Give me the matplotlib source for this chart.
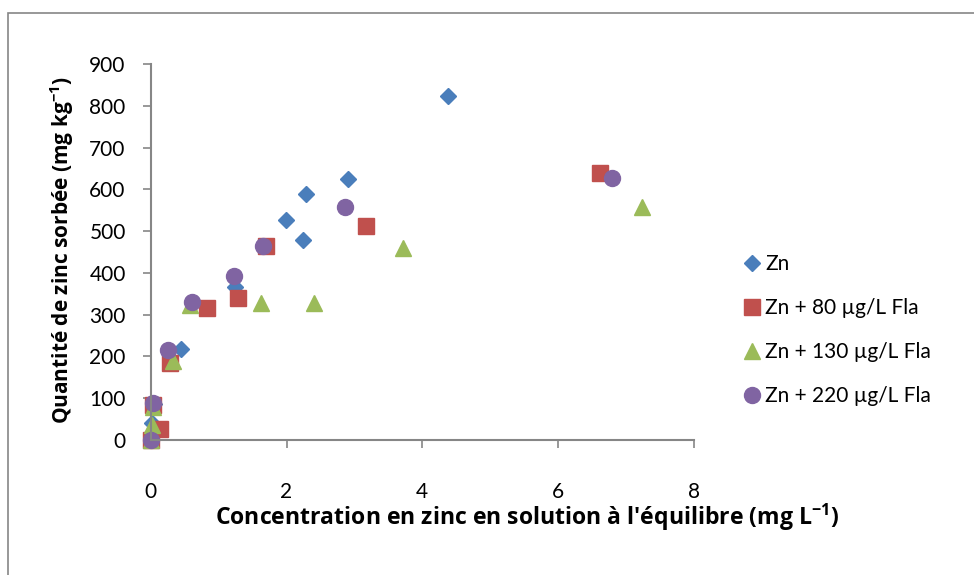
import matplotlib
matplotlib.use('Agg')
import matplotlib.pyplot as plt
from matplotlib.patches import Rectangle

plt.rcParams['font.family'] = ['Lato', 'DejaVu Sans']

# series
zn_x = [0, 0.02, 0.05, 0.45, 1.24, 1.99, 2.24, 2.28, 2.91, 4.38]
zn_y = [0, 40, 85, 218, 367, 526, 478, 588, 624, 824]
fla80_x = [0, 0.03, 0.14, 0.28, 0.83, 1.29, 1.70, 3.17, 6.62]
fla80_y = [0, 84, 26, 184, 317, 341, 464, 513, 640]
fla130_x = [0, 0.02, 0.04, 0.33, 0.58, 1.63, 2.40, 3.71, 7.23]
fla130_y = [0, 36, 78, 190, 323, 327, 328, 459, 558]
fla220_x = [0, 0.04, 0.26, 0.61, 1.22, 1.66, 2.86, 6.79]
fla220_y = [0, 89, 215, 331, 393, 465, 558, 626]

labels = ['Zn', 'Zn + 80 µg/L Fla', 'Zn + 130 µg/L Fla', 'Zn + 220 µg/L Fla']
x_ticks = [0, 2, 4, 6, 8]
y_ticks = [0, 100, 200, 300, 400, 500, 600, 700, 800, 900]

gris = '#868686'

fig = plt.figure(figsize=(9.74, 5.75), dpi=100)
# cadre du graphique (coupe a droite et en bas)
fig.patches.append(Rectangle((8 / 974, -0.05), 1.1, 1 - 13 / 575 + 0.05,
                             transform=fig.transFigure, fill=False,
                             edgecolor=gris, linewidth=1.2))

ax = fig.add_axes([0.1547, 0.2348, 0.7125 - 0.1547, 0.8887 - 0.2348])

ax.plot(zn_x, zn_y, ls='none', marker='D', ms=7.8, color='#4A7EBB',
        mec='#4A7EBB', label=labels[0], clip_on=False)
ax.plot(fla80_x, fla80_y, ls='none', marker='s', ms=11, color='#C0504D',
        mec='#C0504D', label=labels[1], clip_on=False)
ax.plot(fla130_x, fla130_y, ls='none', marker='^', ms=12, color='#9BBB59',
        mec='#9BBB59', label=labels[2], clip_on=False)
ax.plot(fla220_x, fla220_y, ls='none', marker='o', ms=11.5, color='#8064A2',
        mec='#8064A2', label=labels[3], clip_on=False)

ax.set_xlim(0, 8)
ax.set_ylim(0, 900)
ax.set_xticks(x_ticks)
ax.set_yticks(y_ticks)

for s in ['top', 'right']:
    ax.spines[s].set_visible(False)
for s in ['left', 'bottom']:
    ax.spines[s].set_color(gris)
    ax.spines[s].set_linewidth(1.5)

ax.tick_params(axis='x', length=6, width=1.2, color=gris, labelsize=15, pad=24)
ax.tick_params(axis='y', length=6, width=1.2, color=gris, labelsize=15, pad=12)

police = ['Open Sans', 'DejaVu Sans']
ax.set_xlabel("Concentration en zinc en solution à l'équilibre (mg L$^{\\mathregular{-1}}$)",
              family=police, fontsize=16.6, fontweight='bold', va='center')
ax.set_ylabel("Quantité de zinc sorbée (mg kg$^{\\mathregular{-1}}$)",
              family=police, fontsize=15, fontweight='bold', va='center')
# Excel ne centre pas le titre X sur les axes
ax.xaxis.set_label_coords(0.692, -0.205)
ax.yaxis.set_label_coords(-0.163, 0.505)

leg = ax.legend(loc='center left', bbox_to_anchor=(1.07, 0.292), frameon=False,
                fontsize=15, handletextpad=0.1, labelspacing=1.15,
                handlelength=1.1, borderaxespad=0)

fig.savefig('out.png', dpi=100, facecolor='white')
